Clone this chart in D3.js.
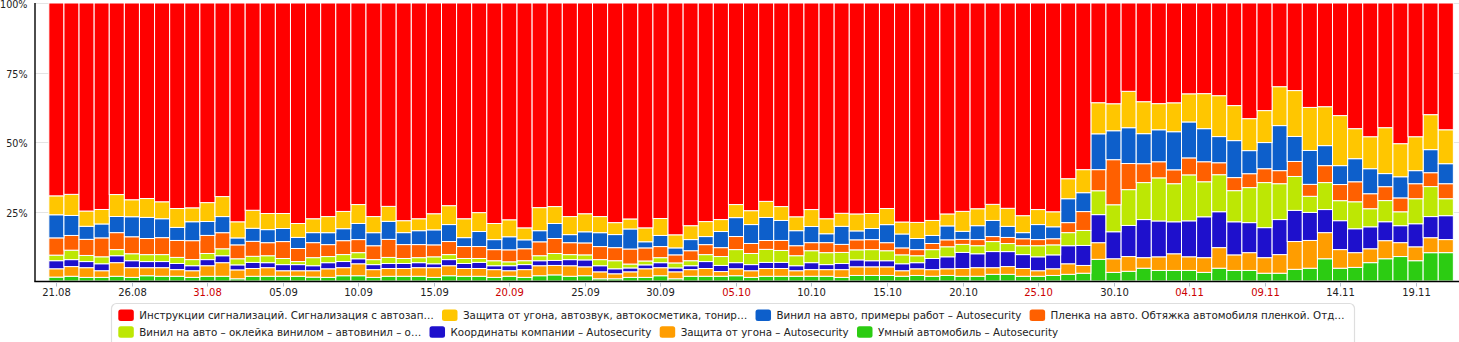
<!DOCTYPE html>
<html><head><meta charset="utf-8">
<script src="https://cdn.jsdelivr.net/npm/d3@7"></script>
<style>
html,body{margin:0;padding:0;background:#fff;}
svg{display:block;font-family:Verdana,"DejaVu Sans",sans-serif;}
</style></head><body>
<svg id="chart" width="1459" height="342"></svg>
<script>
// ---------- data ----------
const startDate = "2014-08-21";
const dayCount = 93;
const holidays = ["2014-11-04"];
const tickEvery = 5;
const yTickValues = [0.25, 0.5, 0.75, 1];

// legend order (top of stack first)
const seriesNames = [
  "Инструкции сигнализаций. Сигнализация с автозап…",
  "Защита от угона, автозвук, автокосметика, тонир…",
  "Винил на авто, примеры работ – Autosecurity",
  "Пленка на авто. Обтяжка автомобиля пленкой. Отд…",
  "Винил на авто – оклейка винилом – автовинил – о…",
  "Координаты компании – Autosecurity",
  "Защита от угона – Autosecurity",
  "Умный автомобиль – Autosecurity"
];
const seriesColors = ["#ff0000","#ffc600","#0d5fcb","#ff6000","#bde704","#1e10cc","#ff9d00","#2ccc12"];

// shares, % per day
const instrukcii = [69.3,68.9,74.9,74.2,68.9,70.7,70.4,71.5,74.0,73.6,71.8,69.7,78.7,74.7,75.8,75.8,79.4,
77.6,76.9,74.9,72.5,76.9,73.3,78.3,77.6,75.8,72.9,77.6,75.4,79.4,77.9,80.8,73.6,73.3,76.9,75.8,
76.9,79.0,77.6,80.8,77.6,83.3,80.1,78.7,77.9,72.5,74.7,71.5,73.3,76.9,74.3,77.6,75.8,75.8,75.8,
74.0,78.7,79.0,78.3,75.8,75.1,74.0,72.5,74.0,76.5,74.3,75.1,63.2,60.0,35.9,36.2,31.8,35.5,36.2,
35.9,32.6,32.6,33.3,36.9,41.6,38.7,30.1,31.5,37.6,37.3,40.5,45.2,48.1,44.8,50.6,48.1,40.2,45.6];
const zashchitaAvtozvuk = [6.8,7.6,5.5,5.2,7.9,6.1,6.8,6.1,6.8,5.0,6.8,7.2,5.8,6.5,5.8,5.4,5.0,
5.0,5.8,6.2,6.8,5.8,5.4,4.3,4.3,5.8,6.8,6.8,6.8,5.8,6.1,4.3,8.3,6.1,6.5,6.5,
5.8,4.3,3.6,5.0,6.1,4.7,5.0,5.4,4.3,4.7,5.0,5.8,5.0,5.0,6.1,5.4,4.7,6.1,5.4,
5.8,4.3,5.8,5.4,4.3,7.2,6.1,5.8,6.5,6.1,5.4,5.4,7.2,8.3,11.2,9.7,13.1,11.5,9.4,
10.4,10.1,12.6,14.7,12.6,11.5,11.5,14.0,16.5,15.5,14.0,18.0,10.8,11.5,16.5,11.9,12.2,12.6,12.2];
const vinilPrimery = [8.3,7.2,4.7,5.0,5.8,7.2,7.6,6.8,4.7,6.8,5.0,5.8,2.5,4.7,4.7,4.7,4.0,
3.6,4.3,4.3,5.8,4.7,6.5,4.3,5.0,5.4,6.1,3.2,5.4,3.6,4.7,3.2,4.0,5.4,2.9,4.0,
5.0,4.7,7.2,2.2,4.0,2.5,4.0,2.9,5.8,6.8,6.8,8.3,7.2,5.4,5.8,3.2,6.5,3.2,4.0,
6.5,5.0,4.0,2.9,5.0,2.9,5.0,5.8,4.0,2.2,5.4,4.3,8.6,6.8,12.9,10.4,12.9,10.8,11.5,
13.7,12.9,11.9,9.4,13.3,8.3,9.4,16.2,9.0,12.2,7.2,6.8,8.3,9.0,4.7,7.6,4.7,8.3,7.2];
const plenka = [6.2,5.3,5.8,6.8,6.1,6.1,5.8,6.1,6.1,6.8,6.5,5.8,5.0,5.4,4.7,6.1,4.7,
5.4,4.3,5.0,4.7,5.0,6.5,5.0,4.7,4.3,4.7,4.3,4.3,4.0,4.3,4.3,5.0,5.4,4.3,4.3,
4.7,4.7,5.4,4.7,4.0,2.9,3.6,3.6,3.2,4.7,3.6,3.2,3.6,3.6,2.9,3.6,2.9,3.6,3.6,
2.9,2.5,2.2,2.2,2.5,1.8,2.2,1.8,2.2,2.5,2.2,2.2,3.6,6.8,7.6,16.2,9.4,6.8,5.8,
5.0,6.1,7.2,4.3,4.7,5.0,5.0,4.7,5.4,4.3,6.1,5.8,7.2,5.4,5.0,5.0,5.4,5.0,5.4];
const vinilOkleika = [2.0,3.4,2.2,2.5,2.2,2.5,2.5,2.5,2.2,2.2,2.2,2.5,2.2,2.2,2.5,2.2,1.1,
2.9,2.2,2.5,2.2,1.8,2.2,1.8,1.8,2.5,1.8,1.8,1.4,1.8,1.4,1.4,1.8,2.5,1.8,1.8,
2.2,2.9,1.4,1.4,1.8,1.8,1.8,2.5,3.2,4.7,4.0,4.7,4.3,3.6,4.3,4.3,4.0,3.6,4.0,
3.6,3.2,2.5,3.2,3.6,2.9,2.9,3.6,2.9,3.2,4.0,3.6,4.7,5.4,8.6,9.7,12.9,13.3,15.5,
13.7,16.5,12.6,13.3,11.2,12.6,16.2,12.9,12.2,5.8,9.7,7.2,9.7,6.5,7.6,5.0,9.0,10.8,6.1];
const koordinaty = [2.9,2.5,2.2,2.5,2.5,2.5,2.2,2.2,2.2,1.8,2.2,2.5,1.8,2.2,1.8,2.2,2.2,
1.8,2.2,2.2,1.8,1.8,1.8,1.8,1.8,1.4,2.2,1.8,2.2,1.4,1.8,1.8,1.8,1.8,2.2,2.5,
2.2,1.8,1.4,1.4,1.8,1.4,1.4,2.5,2.2,2.2,2.2,2.2,2.2,1.8,2.5,1.8,2.2,2.5,2.2,
2.2,2.5,2.2,4.0,4.3,5.8,5.0,5.8,5.4,5.0,5.0,5.0,6.5,7.2,10.1,9.7,11.2,13.7,12.9,
11.5,12.9,14.7,12.9,11.9,10.8,10.8,12.6,11.2,10.1,8.3,10.4,8.6,7.9,6.8,6.1,8.3,7.6,8.6];
const zashchitaUgon = [3.0,3.5,3.5,2.4,4.9,3.5,2.9,3.1,2.4,2.4,3.8,4.9,3.2,2.8,3.1,2.0,2.0,
2.3,3.1,2.9,4.3,2.8,2.8,2.8,3.1,3.5,3.6,2.8,2.8,2.8,2.0,2.8,3.6,3.4,3.8,3.2,
2.5,1.8,2.0,3.1,2.9,2.5,2.4,2.8,1.7,2.5,2.4,2.8,2.8,2.0,2.4,2.4,2.8,3.1,3.1,
3.1,2.0,2.4,2.4,2.4,2.8,3.1,2.4,2.8,2.8,2.0,2.4,3.8,2.8,6.0,4.9,5.3,3.8,4.9,
6.0,4.9,5.3,7.4,5.6,6.4,5.6,6.7,10.0,10.0,9.4,6.7,5.3,5.0,6.5,5.0,5.0,5.4,4.7];
const umnyi = [1.4,1.7,1.3,1.3,1.7,1.3,1.9,1.7,1.7,1.3,1.7,1.7,0.8,1.7,1.7,1.7,1.7,
1.4,1.3,1.9,1.9,1.3,1.7,1.7,1.7,1.3,1.9,1.7,1.7,1.3,1.7,1.3,1.9,2.2,1.7,1.9,
0.8,0.8,1.3,1.3,1.9,0.8,1.7,1.7,1.7,1.9,1.3,1.7,1.7,1.7,1.7,1.7,1.3,2.0,2.0,
2.0,1.7,2.0,1.7,2.0,1.7,1.7,2.4,2.4,1.7,1.7,2.0,2.4,2.8,7.8,3.1,3.5,4.6,3.8,
3.8,3.8,3.1,4.6,3.8,3.8,2.8,2.8,4.2,4.6,8.0,4.6,4.9,6.6,8.0,8.8,7.3,10.2,10.2];

const seriesValues = [instrukcii, zashchitaAvtozvuk, vinilPrimery, plenka, vinilOkleika, koordinaty, zashchitaUgon, umnyi];

// ---------- build ----------
seriesValues.forEach((a,i)=>{ if(a.length!==dayCount) throw new Error("series "+i+" has "+a.length); });

const parse = d3.utcParse("%Y-%m-%d");
const fmt = d3.utcFormat("%d.%m");
const fmtKey = d3.utcFormat("%Y-%m-%d");
const day0 = parse(startDate);
const dates = d3.range(dayCount).map(i => d3.utcDay.offset(day0, i));

const keys = seriesNames.map((n,i)=>"s"+i);
const table = dates.map((d,j)=>{
  const row = {date:d};
  keys.forEach((k,i)=> row[k] = seriesValues[i][j]);
  return row;
});
const stackKeys = keys.slice().reverse(); // bottom first
const stacked = d3.stack().keys(stackKeys).offset(d3.stackOffsetExpand)(table);
const colorOf = d3.scaleOrdinal().domain(keys).range(seriesColors);

const plotLeft = 35, plotRight = 1459, plotTop = 3, plotBottom = 281;
const x = d3.scaleTime()
  .domain([d3.utcHour.offset(day0, -33.4), d3.utcHour.offset(day0, 2229.6)])
  .range([plotLeft, plotRight]);
const step = x(d3.utcDay.offset(day0,1)) - x(day0);
const y = d3.scaleLinear().domain([0,1]).range([plotBottom, plotTop]);

const svg = d3.select("#chart");

// grid
svg.append("g").selectAll("line").data(yTickValues).join("line")
  .attr("x1", plotLeft).attr("x2", plotRight)
  .attr("y1", d=>Math.round(y(d))+0.5).attr("y2", d=>Math.round(y(d))+0.5)
  .attr("stroke","#e4e4e4").attr("stroke-width",1);

// bars
svg.append("g").selectAll("g").data(stacked).join("g")
  .attr("fill", s=>colorOf(s.key))
  .selectAll("rect").data(s=>s).join("rect")
  .attr("x", d=>x(d.data.date)-step/2)
  .attr("width", step)
  .attr("y", d=>y(d[1]))
  .attr("height", d=>Math.max(0, y(d[0])-y(d[1])))
  .attr("stroke","#fff").attr("stroke-width",1);

// y labels
svg.append("g").selectAll("text").data(yTickValues).join("text")
  .attr("x", 27.5).attr("y", d=>y(d)+5)
  .attr("text-anchor","end").attr("font-size",9.6).attr("fill","#222")
  .text(d=>d3.format(".0%")(d));

// axes lines
svg.append("line").attr("x1",plotLeft).attr("x2",plotLeft).attr("y1",plotTop).attr("y2",plotBottom+0.5)
  .attr("stroke","#000").attr("stroke-width",1.4);
svg.append("line").attr("x1",plotLeft-0.7).attr("x2",plotRight).attr("y1",plotBottom+0.5).attr("y2",plotBottom+0.5)
  .attr("stroke","#000").attr("stroke-width",1.4);

// x ticks
const tickDates = dates.filter((d,i)=> i % tickEvery === 0);
const isRed = d => d.getUTCDay()===0 || d.getUTCDay()===6 || holidays.includes(fmtKey(d));
const xt = svg.append("g").selectAll("g").data(tickDates).join("g")
  .attr("transform", d=>`translate(${Math.round(x(d))+0.5},0)`);
xt.append("line").attr("y1", plotBottom+1.5).attr("y2", plotBottom+5.5)
  .attr("stroke","#b8c0cc").attr("stroke-width",1);
xt.append("text").attr("y", 295.5).attr("text-anchor","middle")
  .attr("font-size",10).attr("fill", d=> isRed(d) ? "#cc0000" : "#222")
  .text(d=>fmt(d));

// legend
svg.append("rect").attr("x",111.5).attr("y",303.5).attr("width",1243).attr("height",60)
  .attr("rx",5).attr("fill","none").attr("stroke","#dedede").attr("stroke-width",1.2);

const legendRows = [[0,1,2,3],[4,5,6,7]];
const rowY = [309.5, 326.2];
const lg = svg.append("g").attr("font-size",10.3);
legendRows.forEach((row, r)=>{
  let cx = 118.3;
  row.forEach(i=>{
    lg.append("rect").attr("x",cx).attr("y",rowY[r]).attr("width",15.5).attr("height",11.5)
      .attr("rx",2.5).attr("fill",seriesColors[i]);
    const t = lg.append("text").attr("x",cx+21).attr("y",rowY[r]+9.7)
      .attr("fill","#222").text(seriesNames[i]);
    cx = cx + 21 + t.node().getComputedTextLength() + 8.3;
  });
});
</script>
</body></html>
